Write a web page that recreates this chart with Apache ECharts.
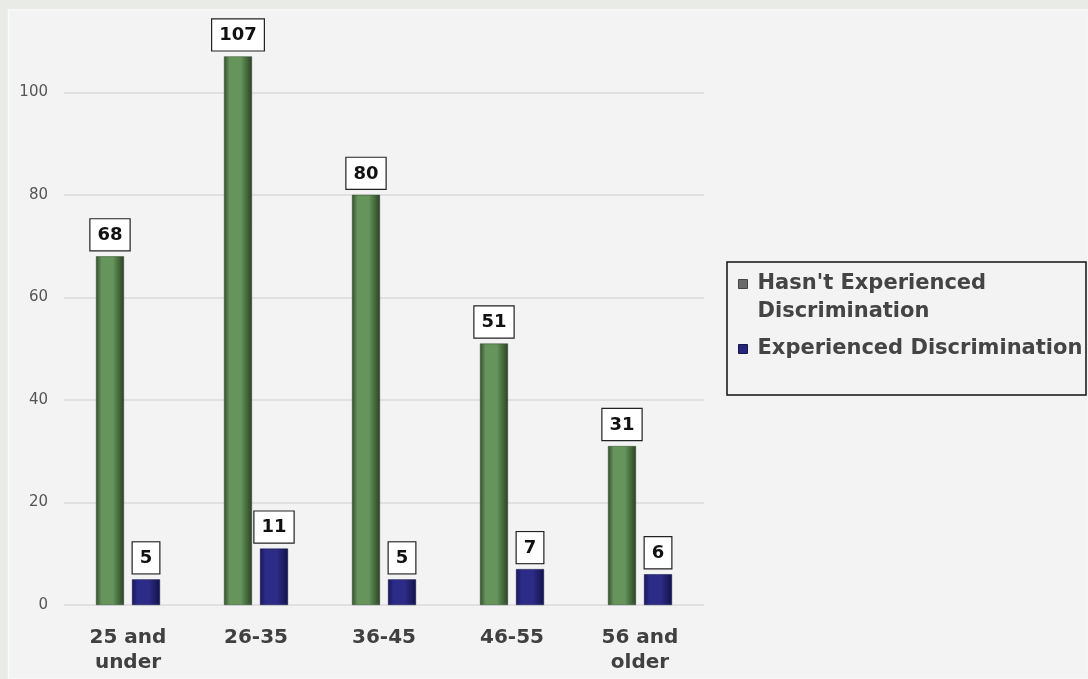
<!DOCTYPE html>
<html>
<head>
<meta charset="utf-8">
<script src="https://cdn.jsdelivr.net/npm/echarts@6/dist/echarts.min.js"></script>
<style>
html,body{margin:0;padding:0;background:#e8ebe6;}
#chart{width:1088px;height:679px;}
</style>
</head>
<body>
<div id="chart"></div>
<script>
const categories = ['25 and\nunder', '26-35', '36-45', '46-55', '56 and\nolder'];
const seriesNames = ["Hasn't Experienced Discrimination", 'Experienced Discrimination'];
const notExperienced = [68, 107, 80, 51, 31];
const experienced = [5, 11, 5, 7, 6];
const yTicks = [0, 20, 40, 60, 80, 100];
const yMax = 118;

const chart = echarts.init(document.getElementById('chart'), null, {renderer: 'canvas'});

function hGrad(edge, mid, edge2) {
  return new echarts.graphic.LinearGradient(0, 0, 1, 0, [
    {offset: 0, color: edge},
    {offset: 0.2, color: mid},
    {offset: 0.6, color: mid},
    {offset: 1, color: edge2}
  ]);
}

const FONT = 'DejaVu Sans, Verdana, sans-serif';

const labelStyle = {
  show: true,
  position: 'top',
  distance: 6,
  color: '#111',
  fontFamily: FONT,
  fontWeight: 'bold',
  fontSize: 18,
  backgroundColor: '#ffffff',
  borderColor: '#222',
  borderWidth: 1.2,
  padding: [7, 7, 6, 7]
};

const option = {
  backgroundColor: '#e8ebe6',
  animation: false,
  graphic: [
    {type: 'rect', silent: true, shape: {x: 8.5, y: 10, width: 1080, height: 669}, style: {fill: '#f3f3f3', stroke: '#fbfbfb', lineWidth: 1.5}, z: -10},
    {type: 'rect', silent: true, shape: {x: 727, y: 262, width: 359, height: 133}, style: {fill: 'none', stroke: '#111', lineWidth: 1.5}, z: 5}
  ],
  grid: {left: 64, width: 640, top: 0, bottom: 74},
  legend: {
    orient: 'vertical',
    left: 738,
    top: 251,
    padding: 0,
    data: [
      {name: seriesNames[0], itemStyle: {color: '#6b6b6b', borderColor: '#444', borderWidth: 1}},
      {name: seriesNames[1], itemStyle: {color: '#25257a', borderColor: '#151550', borderWidth: 1}}
    ],
    icon: 'rect',
    itemWidth: 9,
    itemHeight: 9,
    itemGap: 16,
    formatter: function (name) {
      if (name === seriesNames[0]) {
        return '{e| }\n{a|Hasn\'t Experienced}\n{a|Discrimination}';
      }
      return '{a|' + name + '}';
    },
    textStyle: {
      rich: {
        e: {fontSize: 10, lineHeight: 28},
        a: {fontFamily: FONT, fontWeight: 'bold', fontSize: 21, color: '#444', lineHeight: 28, padding: [0, 0, 0, 5]}
      }
    }
  },
  xAxis: {
    type: 'category',
    data: categories,
    axisLine: {show: false},
    axisTick: {show: false},
    axisLabel: {
      margin: 20,
      fontFamily: FONT,
      fontWeight: 'bold',
      fontSize: 20,
      color: '#404040',
      lineHeight: 25
    }
  },
  yAxis: {
    type: 'value',
    min: yTicks[0],
    max: yMax,
    interval: yTicks[1] - yTicks[0],
    axisLine: {show: false},
    axisTick: {show: false},
    splitLine: {showMaxLine: false, lineStyle: {color: '#dadada', width: 1.5}},
    axisLabel: {
      margin: 16,
      showMaxLabel: false,
      fontFamily: FONT,
      fontSize: 15,
      color: '#555'
    }
  },
  series: [
    {
      name: seriesNames[0],
      type: 'bar',
      data: notExperienced,
      barWidth: 28,
      barGap: '28.6%',
      itemStyle: {color: hGrad('#34502e', '#65955a', '#2b4226'), borderColor: '#2f4a2a', borderWidth: 0.5},
      label: labelStyle
    },
    {
      name: seriesNames[1],
      type: 'bar',
      data: experienced,
      barWidth: 28,
      itemStyle: {color: hGrad('#17175a', '#2c2c88', '#121248'), borderColor: '#121248', borderWidth: 0.5},
      label: labelStyle
    }
  ]
};
chart.setOption(option);
</script>
</body>
</html>
